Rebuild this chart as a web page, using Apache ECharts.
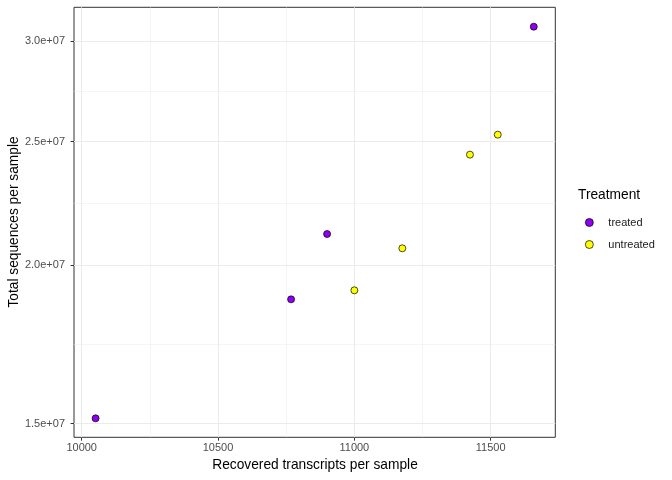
<!DOCTYPE html>
<html><head><meta charset="utf-8">
<script src="https://cdn.jsdelivr.net/npm/echarts@6/dist/echarts.min.js"></script>
<style>html,body{margin:0;padding:0;background:#fff}#c{width:672px;height:480px}</style>
</head><body><div id="c"></div>
<script>
// ---- data ----
const treatedX = [10051, 10768, 10900, 11658];
const treatedY = [15147000, 18790000, 21150000, 30790000];
const untreatedX = [11000, 11176, 11424, 11526];
const untreatedY = [19100000, 20610000, 24420000, 25320000];
const groups = ['treated', 'untreated'];
const xTicks = [10000, 10500, 11000, 11500];
const xMinor = [10250, 10750, 11250];
const yTicks = [15000000, 20000000, 25000000, 30000000];
const yMinor = [17320508, 22360680, 27386128];
const xRange = [9971.8, 11737];
const yRange = [14635000, 31890000];

const FONT = '"Liberation Sans", Arial, sans-serif';
const purple = '#8F00F0', yellow = '#FFFF00';

const pair = (xs, ys) => xs.map((x, i) => [x, ys[i]]);

const gridLines = [];
xMinor.forEach(v => gridLines.push({xAxis: v, lineStyle: {width: 0.5, color: '#EBEBEB', type: 'solid'}}));
yMinor.forEach(v => gridLines.push({yAxis: v, lineStyle: {width: 0.5, color: '#EBEBEB', type: 'solid'}}));
xTicks.forEach(v => gridLines.push({xAxis: v, lineStyle: {width: 1, color: '#EBEBEB', type: 'solid'}}));
yTicks.forEach(v => gridLines.push({yAxis: v, lineStyle: {width: 1, color: '#EBEBEB', type: 'solid'}}));

const chart = echarts.init(document.getElementById('c'), null, {renderer: 'canvas'});
chart.setOption({
  animation: false,
  backgroundColor: '#ffffff',
  textStyle: {fontFamily: FONT},
  grid: {left: 74, top: 7.3, right: 116.7, bottom: 42.7, show: true, borderColor: '#333333', borderWidth: 1, backgroundColor: '#ffffff'},
  xAxis: {
    type: 'value', min: xRange[0], max: xRange[1],
    axisLine: {show: false},
    axisTick: {show: true, length: 3.4, lineStyle: {color: '#333333', width: 1}, customValues: xTicks},
    axisLabel: {color: '#4D4D4D', fontSize: 11, margin: 5, fontFamily: FONT, customValues: xTicks, formatter: v => String(v)},
    splitLine: {show: false}
  },
  yAxis: [{
    type: 'log', logBase: 10, min: yRange[0], max: yRange[1],
    axisLine: {show: false}, axisTick: {show: false}, axisLabel: {show: false}, splitLine: {show: false}
  }, {
    type: 'value', position: 'left', offset: 0,
    min: Math.log10(yRange[0]), max: Math.log10(yRange[1]),
    axisLine: {show: false},
    axisTick: {show: true, length: 3.4, lineStyle: {color: '#333333', width: 1}, customValues: yTicks.map(Math.log10)},
    axisLabel: {
      color: '#4D4D4D', fontSize: 11, margin: 9, fontFamily: FONT,
      customValues: yTicks.map(Math.log10),
      formatter: v => Math.pow(10, v).toExponential(1).replace(/e\+(\d)$/, 'e+0$1')
    },
    splitLine: {show: false}
  }],
  legend: {
    orient: 'vertical', left: 580, top: 212,
    itemWidth: 8, itemHeight: 8, itemGap: 11,
    icon: 'circle',
    data: groups,
    textStyle: {fontSize: 11, color: '#1A1A1A', fontFamily: FONT, padding: [0, 0, 0, 10]},
    itemStyle: {borderColor: '#000', borderWidth: 0.7},
    selectedMode: false
  },
  graphic: [
    {type: 'text', left: 578, top: 188, style: {text: 'Treatment', fontSize: 13.75, fill: '#000', fontFamily: FONT}},
    {type: 'text', x: 315, y: 465, style: {text: 'Recovered transcripts per sample', fontSize: 13.75, fill: '#000', fontFamily: FONT, align: 'center', verticalAlign: 'middle'}},
    {type: 'text', x: 14, y: 222, rotation: Math.PI / 2, style: {text: 'Total sequences per sample', fontSize: 13.75, fill: '#000', fontFamily: FONT, align: 'center', verticalAlign: 'middle'}}
  ],
  series: [
    {type: 'line', data: [], yAxisIndex: 0, z: 1, silent: true,
     markLine: {silent: true, symbol: 'none', label: {show: false}, animation: false, data: gridLines}},
    {name: groups[0], type: 'scatter', yAxisIndex: 0, z: 5, symbolSize: 7,
     itemStyle: {color: purple, borderColor: '#000', borderWidth: 0.7, opacity: 1},
     data: pair(treatedX, treatedY)},
    {name: groups[1], type: 'scatter', yAxisIndex: 0, z: 5, symbolSize: 7,
     itemStyle: {color: yellow, borderColor: '#000', borderWidth: 0.7, opacity: 1},
     data: pair(untreatedX, untreatedY)}
  ]
});
</script></body></html>
